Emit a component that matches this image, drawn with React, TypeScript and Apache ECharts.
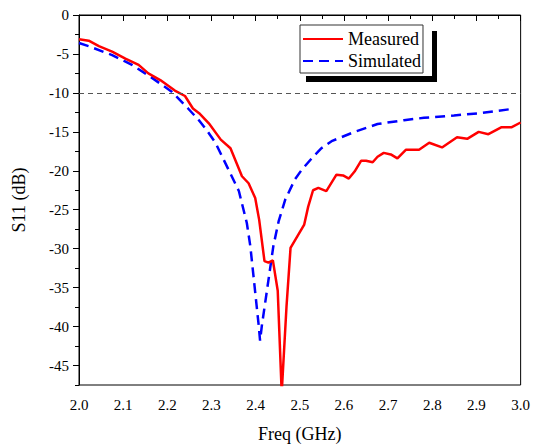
import React, { useEffect, useRef } from "react";
import * as echarts from "echarts";

const measuredFreq = [
  2.0, 2.022, 2.045, 2.075, 2.105, 2.135, 2.157, 2.184, 2.217, 2.24, 2.258, 2.272,
  2.294, 2.321, 2.343, 2.369, 2.384, 2.399, 2.408, 2.42, 2.429, 2.439, 2.45, 2.459,
  2.47, 2.479, 2.51, 2.519, 2.53, 2.542, 2.56, 2.583, 2.598, 2.611, 2.624, 2.639,
  2.65, 2.665, 2.676, 2.69, 2.706, 2.721, 2.74, 2.77, 2.793, 2.822, 2.856, 2.879,
  2.905, 2.927, 2.957, 2.98, 3.0,
];
const measuredS11 = [
  -3.1, -3.3, -4.0, -4.7, -5.6, -6.4, -7.5, -8.35, -9.7, -10.4, -12.0, -12.6,
  -13.9, -16.0, -17.1, -20.7, -21.6, -23.5, -26.3, -31.6, -31.8, -31.5, -35.4, -48.5,
  -37.3, -29.9, -26.9, -24.6, -22.5, -22.2, -22.6, -20.5, -20.6, -21.0, -20.1, -18.7,
  -18.7, -18.9, -18.2, -17.7, -17.9, -18.4, -17.3, -17.3, -16.4, -17.0, -15.7, -15.9,
  -15.0, -15.3, -14.4, -14.4, -13.8,
];
const simulatedFreq = [
  2.0, 2.022, 2.075, 2.12, 2.161, 2.21, 2.247, 2.272, 2.288, 2.309, 2.339, 2.362,
  2.38, 2.388, 2.399, 2.407, 2.41, 2.414, 2.425, 2.44, 2.452, 2.467, 2.489, 2.504,
  2.527, 2.549, 2.572, 2.624, 2.676, 2.736, 2.781, 2.849, 2.909, 2.975,
];
const simulatedS11 = [
  -3.6, -4.0, -5.15, -6.4, -7.9, -9.85, -12.0, -13.55, -14.7, -16.4, -19.9, -22.6,
  -26.7, -29.7, -35.6, -39.9, -41.8, -39.9, -35.6, -29.7, -26.5, -23.7, -21.1, -19.9,
  -18.4, -17.1, -16.2, -15.0, -14.0, -13.5, -13.2, -12.9, -12.6, -12.1,
];
const yMajorTicks = [0, -5, -10, -15, -20, -25, -30, -35, -40, -45];
const yMinorTicks = [-2.5, -7.5, -12.5, -17.5, -22.5, -27.5, -32.5, -37.5, -42.5, -47.5];
const thresholdDb = -10;

const FONT = "Liberation Serif";

export default function App() {
  const ref = useRef<HTMLDivElement>(null);
  useEffect(() => {
    const chart = echarts.init(ref.current!, null, { renderer: "svg" });
    const measured = measuredFreq.map((f, i) => [f, measuredS11[i]]);
    const simulated = simulatedFreq.map((f, i) => [f, simulatedS11[i]]);
    chart.setOption({
      animation: false,
      backgroundColor: "#fff",
      textStyle: { fontFamily: FONT },
      grid: {
        left: 79,
        right: 9,
        top: 15,
        bottom: 62,
        show: true,
        borderColor: "#000",
        borderWidth: 1,
        backgroundColor: "transparent",
      },
      xAxis: {
        type: "value",
        min: 2,
        max: 3,
        interval: 0.1,
        name: "Freq (GHz)",
        nameLocation: "middle",
        nameGap: 40,
        nameTextStyle: { fontFamily: FONT, fontSize: 18, color: "#000" },
        axisLine: { show: true, lineStyle: { color: "#000", width: 1 } },
        axisTick: { show: true, inside: false, length: 6, lineStyle: { color: "#000" } },
        minorTick: { show: true, splitNumber: 2, length: 4, lineStyle: { color: "#000" } },
        axisLabel: {
          fontFamily: FONT,
          fontSize: 15,
          color: "#000",
          margin: 12,
          formatter: (v: number) => v.toFixed(1),
        },
        splitLine: { show: false },
        minorSplitLine: { show: false },
      },
      yAxis: [
        {
          type: "value",
          min: -47.5,
          max: 0,
          name: "S11 (dB)",
          nameLocation: "middle",
          nameGap: 51,
          nameRotate: 90,
          nameTextStyle: { fontFamily: FONT, fontSize: 18, color: "#000" },
          axisLine: { show: true, lineStyle: { color: "#000", width: 1 } },
          axisTick: {
            show: true,
            inside: false,
            length: 6,
            customValues: yMajorTicks,
            lineStyle: { color: "#000" },
          },
          axisLabel: {
            fontFamily: FONT,
            fontSize: 15,
            color: "#000",
            margin: 10,
            customValues: yMajorTicks,
            formatter: (v: number) => String(Math.round(v)),
          },
          splitLine: { show: false },
        },
        {
          type: "value",
          min: -47.5,
          max: 0,
          position: "left",
          axisLine: { show: false },
          axisTick: {
            show: true,
            inside: false,
            length: 4,
            customValues: yMinorTicks,
            lineStyle: { color: "#000" },
          },
          axisLabel: { show: false },
          splitLine: { show: false },
        },
      ],
      legend: {
        data: ["Measured", "Simulated"],
        orient: "vertical",
        left: 300,
        top: 25,
        itemWidth: 40,
        itemHeight: 12,
        itemGap: 4,
        padding: [5, 2, 3, 2],
        selectedMode: false,
        backgroundColor: "#fff",
        borderColor: "#333",
        borderWidth: 1,
        borderRadius: 0,
        z: 10,
        itemStyle: { opacity: 0 },
        textStyle: { fontFamily: FONT, fontSize: 18, color: "#000" },
      },
      graphic: {
        elements: [
          {
            type: "rect",
            z: 100,
            silent: true,
            shape: { x: 432, y: 31, width: 5, height: 51 },
            style: { fill: "#000" },
          },
          {
            type: "rect",
            z: 100,
            silent: true,
            shape: { x: 306, y: 76, width: 131, height: 6 },
            style: { fill: "#000" },
          },
        ],
      },
      series: [
        {
          name: "Measured",
          type: "line",
          data: measured,
          symbol: "none",
          showSymbol: false,
          clip: true,
          lineStyle: { color: "#ff0000", width: 2.5 },
          itemStyle: { color: "#ff0000" },
          z: 3,
          markLine: {
            silent: true,
            symbol: "none",
            label: { show: false },
            lineStyle: { color: "#555", type: [5, 4], width: 1 },
            data: [{ yAxis: thresholdDb }],
          },
        },
        {
          name: "Simulated",
          type: "line",
          data: simulated,
          symbol: "none",
          showSymbol: false,
          clip: true,
          lineStyle: { color: "#0000ff", width: 2.5, type: [10, 6] },
          itemStyle: { color: "#0000ff" },
          z: 2,
        },
      ],
    });
    return () => chart.dispose();
  }, []);
  return (
    <div
      ref={ref}
      style={{ position: "fixed", left: 0, top: 0, width: 533, height: 448, background: "#fff" }}
    />
  );
}
